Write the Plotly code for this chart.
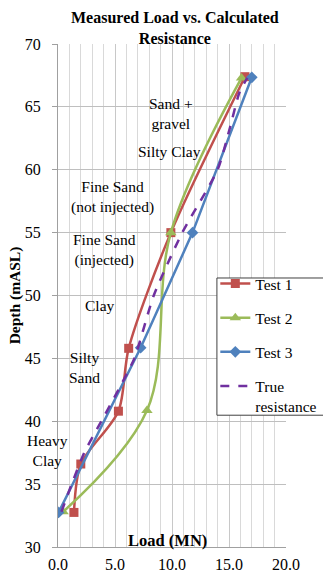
import plotly.graph_objects as go

# Data
test1_load = [1.4, 2.0, 5.3, 6.2, 9.9, 16.4]
test1_depth = [32.75, 36.6, 40.8, 45.8, 55.0, 67.4]

test2_load = [0.45, 7.8, 9.9, 16.1]
test2_depth = [32.8, 40.85, 55.0, 67.3]

test3_load = [0.05, 7.25, 11.8, 17.0]
test3_depth = [32.75, 45.85, 55.0, 67.35]

true_load = [0.3, 1.2, 2.3, 3.8, 5.3, 6.7, 8.4, 10.9, 14.0, 15.1, 15.9, 16.6]
true_depth = [32.8, 35.0, 37.5, 40.0, 42.5, 45.0, 50.0, 55.0, 60.0, 63.4, 66.1, 67.3]

layer_labels = ["Sand +<br>gravel", "Silty Clay", "Fine Sand<br>(not injected)",
                "Fine Sand<br>(injected)", "Clay", "Silty<br>Sand", "Heavy<br>Clay"]

# annotation placement (paper coordinates)
label_pos = [(0.4956, 0.8614), (0.4912, 0.7863), (0.2412, 0.6968), (0.2061, 0.5905),
             (0.1842, 0.4811), (0.1184, 0.3559), (-0.048, 0.1909)]

FONT = "Liberation Serif"

fig = go.Figure()
fig.add_trace(go.Scatter(x=test1_load, y=test1_depth, name="Test 1", mode="lines+markers",
                         line=dict(color="#C0504D", width=2.5, shape="spline", smoothing=0.8),
                         marker=dict(symbol="square", size=9, color="#C0504D"),
                         legendgroup="a"))
fig.add_trace(go.Scatter(x=test2_load, y=test2_depth, name="Test 2", mode="lines+markers",
                         line=dict(color="#9BBB59", width=2.5, shape="spline", smoothing=1.0),
                         marker=dict(symbol="triangle-up", size=10, color="#9BBB59"),
                         legendgroup="b"))
fig.add_trace(go.Scatter(x=test3_load, y=test3_depth, name="Test 3", mode="lines+markers",
                         line=dict(color="#4F81BD", width=2.5),
                         marker=dict(symbol="diamond", size=9, color="#4F81BD"),
                         legendgroup="c"))
fig.add_trace(go.Scatter(x=true_load, y=true_depth, name="True<br>resistance", mode="lines",
                         line=dict(color="#7030A0", width=2.5, dash="dash", shape="spline", smoothing=0.6),
                         legendgroup="d"))

for t, (px, py) in zip(layer_labels, label_pos):
    fig.add_annotation(x=px, y=py, text=t, showarrow=False, xref="paper", yref="paper",
                       xanchor="center", yanchor="middle",
                       font=dict(family=FONT, size=15.5, color="black"))

fig.add_annotation(x=9.6, y=30.53, text="<b>Load (MN)</b>", showarrow=False, xref="x", yref="y",
                   xanchor="center", yanchor="middle", font=dict(family=FONT, size=16.5, color="black"))

fig.add_annotation(x=0.513, y=1, xref="paper", yref="paper", xanchor="center", yanchor="bottom",
                   yshift=-5, showarrow=False,
                   text="<b>Measured Load vs. Calculated<br>Resistance</b>",
                   font=dict(family=FONT, size=16, color="black"))

# legend frame (white box with border, drawn above the lines, under the legend entries)
fig.add_shape(type="rect", xref="paper", yref="paper", x0=0.697, x1=1.2, y0=0.262, y1=0.5348,
              line=dict(color="#404040", width=1), fillcolor="white", layer="above")

fig.update_layout(
    width=323, height=572,
    margin=dict(l=58, r=37, t=44, b=25, autoexpand=False),
    paper_bgcolor="white", plot_bgcolor="white",
    font=dict(family=FONT, size=15, color="black"),
    showlegend=True,
    legend=dict(x=0.69, xanchor="left", y=0.5568, yanchor="top", bgcolor="rgba(0,0,0,0)",
                borderwidth=0, tracegroupgap=11, valign="top",
                font=dict(family=FONT, size=15.5, color="black")),
    xaxis=dict(range=[0, 20], dtick=5, tickformat=".1f", showgrid=True, gridcolor="#c8c8c8",
               minor=dict(dtick=1, showgrid=True, gridcolor="#d9d9d9"),
               showline=True, linecolor="#a0a0a0", mirror=False, zeroline=False,
               automargin=False,
               ticks="", ticklabelstandoff=3, tickfont=dict(family=FONT, size=16)),
    yaxis=dict(range=[30, 70], dtick=5, showgrid=True, gridcolor="#bfbfbf",
               showline=True, linecolor="#a0a0a0", zeroline=False, automargin=False,
               ticks="outside", ticklen=5, tickcolor="#a0a0a0", ticklabelstandoff=8,
               tickfont=dict(family=FONT, size=16),
               title=dict(text="<b>Depth (mASL)</b>", font=dict(family=FONT, size=15.5), standoff=0)),
)

fig.write_html("out.html", config={"displayModeBar": False},
               post_script="document.body.style.margin='0';document.body.style.overflow='hidden';")
